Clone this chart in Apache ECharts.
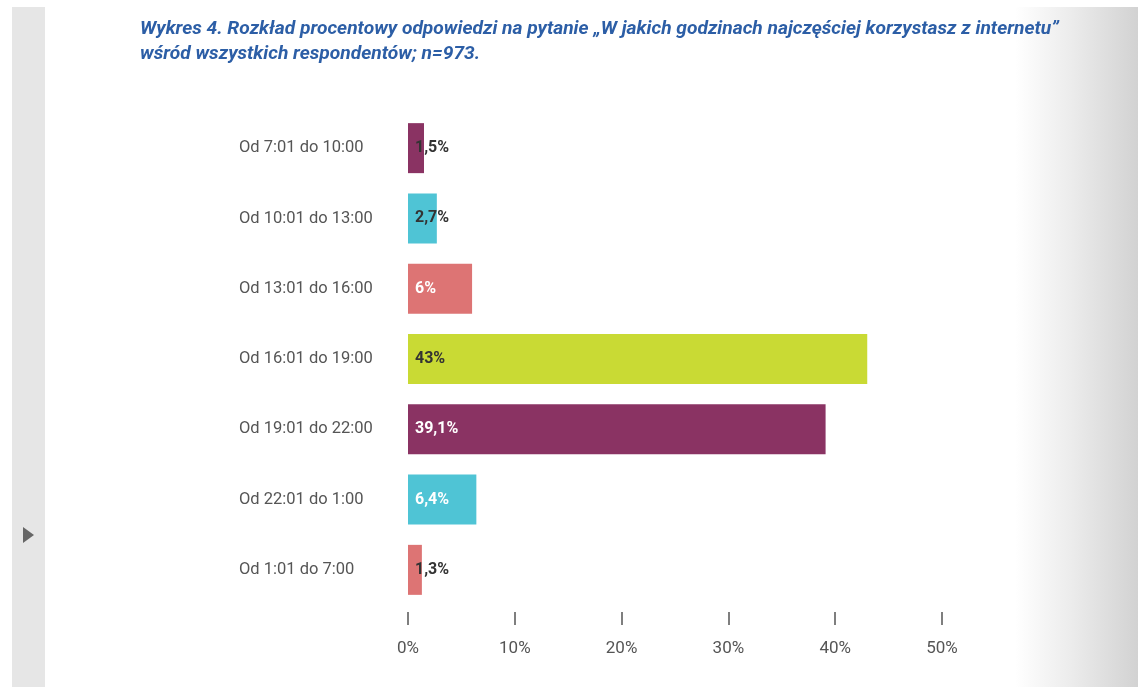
<!DOCTYPE html>
<html>
<head>
<meta charset="utf-8">
<script src="https://cdn.jsdelivr.net/npm/echarts@6/dist/echarts.min.js"></script>
<style>
  html, body { margin: 0; padding: 0; background: #ffffff; }
  #chart { width: 1138px; height: 687px; }
</style>
</head>
<body>
<div id="chart"></div>
<script>
// przedziały godzinowe (od góry do dołu)
const godziny = [
    'Od 7:01 do 10:00',
    'Od 10:01 do 13:00',
    'Od 13:01 do 16:00',
    'Od 16:01 do 19:00',
    'Od 19:01 do 22:00',
    'Od 22:01 do 1:00',
    'Od 1:01 do 7:00'
];
const procenty = [1.5, 2.7, 6, 43, 39.1, 6.4, 1.3];
const etykiety = ['1,5%', '2,7%', '6%', '43%', '39,1%', '6,4%', '1,3%'];
const kolory = ['#8a3363', '#4fc4d5', '#dd7474', '#c9da34', '#8a3363', '#4fc4d5', '#dd7474'];
const koloryEtykiet = ['#333333', '#333333', '#ffffff', '#333333', '#ffffff', '#ffffff', '#333333'];

const tytul1 = 'Wykres 4. Rozkład procentowy odpowiedzi na pytanie \u201EW jakich godzinach najczęściej korzystasz z internetu\u201D';
const tytul2 = 'wśród wszystkich respondentów; n=973.';

var dom = document.getElementById('chart');
var myChart = echarts.init(dom, null, { renderer: 'canvas' });

const dane = procenty.map((v, i) => ({
    value: v,
    itemStyle: { color: kolory[i] },
    label: { formatter: etykiety[i], color: koloryEtykiet[i] }
}));

var option = {
    backgroundColor: '#ffffff',
    animation: false,
    graphic: [
        // szary pasek po lewej
        { type: 'rect', shape: { x: 12, y: 7, width: 33, height: 680 }, style: { fill: '#e6e6e6' }, z: -10 },
        { type: 'polygon', shape: { points: [[23, 527], [23, 543], [34, 535]] }, style: { fill: '#666666' }, z: -9 },
        // cieniowanie po prawej
        {
            type: 'rect', shape: { x: 1015, y: 7, width: 123, height: 680 }, z: -10,
            style: {
                fill: new echarts.graphic.LinearGradient(0, 0, 1, 0, [
                    { offset: 0, color: 'rgba(255,255,255,1)' },
                    { offset: 0.45, color: '#ececec' },
                    { offset: 1, color: '#d2d2d2' }
                ])
            }
        },
        {
            type: 'text', left: 140, top: 20, z: 10,
            style: { text: tytul1, font: 'italic bold 19.2px Roboto', fill: '#2c5ea6' }
        },
        {
            type: 'text', left: 140, top: 45, z: 10,
            style: { text: tytul2, font: 'italic bold 19.2px Roboto', fill: '#2c5ea6' }
        }
    ],
    grid: {
        left: 408,
        right: 1138 - 942,
        top: 113,
        bottom: 687 - 605
    },
    xAxis: {
        type: 'value',
        min: 0,
        max: 50,
        interval: 10,
        offset: 7,
        axisLine: { show: false },
        axisTick: { show: true, length: 13, lineStyle: { color: '#555555', width: 1.5 } },
        splitLine: { show: false },
        axisLabel: {
            formatter: '{value}%',
            margin: 28,
            fontFamily: 'Roboto',
            fontSize: 17,
            color: '#555555'
        }
    },
    yAxis: {
        type: 'category',
        data: godziny,
        inverse: true,
        axisLine: { show: false },
        axisTick: { show: false },
        axisLabel: {
            align: 'left',
            margin: 169,
            padding: [7, 0, 0, 0],
            fontFamily: 'Roboto',
            fontSize: 16.5,
            color: '#555555'
        }
    },
    series: [
        {
            type: 'bar',
            data: dane,
            barWidth: 50,
            label: {
                show: true,
                position: 'insideLeft',
                distance: 7,
                fontFamily: 'Roboto',
                fontWeight: 'bold',
                fontSize: 16
            }
        }
    ]
};

if (option && typeof option === 'object') {
    myChart.setOption(option);
}
</script>
</body>
</html>
